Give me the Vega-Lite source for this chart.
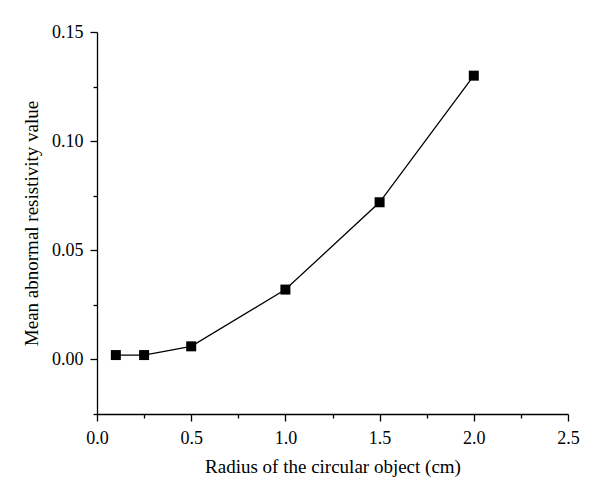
{
  "$schema": "https://vega.github.io/schema/vega-lite/v6.json",
  "width": 471,
  "height": 382,
  "autosize": "none",
  "padding": {"left": 97, "top": 32, "right": 32, "bottom": 86},
  "background": "white",
  "config": {
    "view": {"stroke": null},
    "font": "Liberation Serif",
    "axis": {
      "labelFont": "Liberation Serif",
      "titleFont": "Liberation Serif",
      "labelFontSize": 18,
      "titleFontSize": 19,
      "titleFontWeight": "normal",
      "labelColor": "#000",
      "titleColor": "#000",
      "domainColor": "#000",
      "tickColor": "#000",
      "domainWidth": 1.3,
      "tickWidth": 1.3,
      "labelFlush": false,
      "grid": false
    }
  },
  "data": {
    "values": [
      {"r": 0.1, "v": 0.002},
      {"r": 0.25, "v": 0.002},
      {"r": 0.5, "v": 0.006},
      {"r": 1.0, "v": 0.032},
      {"r": 1.5, "v": 0.072},
      {"r": 2.0, "v": 0.13}
    ]
  },
  "encoding": {
    "x": {
      "field": "r",
      "type": "quantitative",
      "scale": {"domain": [0, 2.5], "nice": false, "zero": false},
      "axis": {
        "title": "Radius of the circular object (cm)",
        "values": [0, 0.25, 0.5, 0.75, 1, 1.25, 1.5, 1.75, 2, 2.25, 2.5],
        "labelExpr": "(datum.value * 4) % 2 == 0 ? format(datum.value, '.1f') : ''",
        "tickSize": {"condition": {"test": "(datum.value * 4) % 2 == 0", "value": 7}, "value": 4},
        "labelPadding": 8,
        "titlePadding": 10
      }
    },
    "y": {
      "field": "v",
      "type": "quantitative",
      "scale": {"domain": [-0.025, 0.15], "nice": false, "zero": false},
      "axis": {
        "title": "Mean abnormal resistivity value",
        "values": [-0.025, 0, 0.025, 0.05, 0.075, 0.1, 0.125, 0.15],
        "labelExpr": "abs(round(datum.value * 1000) % 50) < 1 ? format(datum.value, '.2f') : ''",
        "tickSize": {"condition": {"test": "abs(round(datum.value * 1000) % 50) < 1", "value": 7}, "value": 4},
        "labelPadding": 7,
        "titlePadding": 10
      }
    }
  },
  "layer": [
    {"mark": {"type": "line", "color": "#000", "strokeWidth": 1.3}},
    {"mark": {"type": "point", "shape": "square", "filled": true, "color": "#000", "opacity": 1, "size": 100}}
  ]
}
